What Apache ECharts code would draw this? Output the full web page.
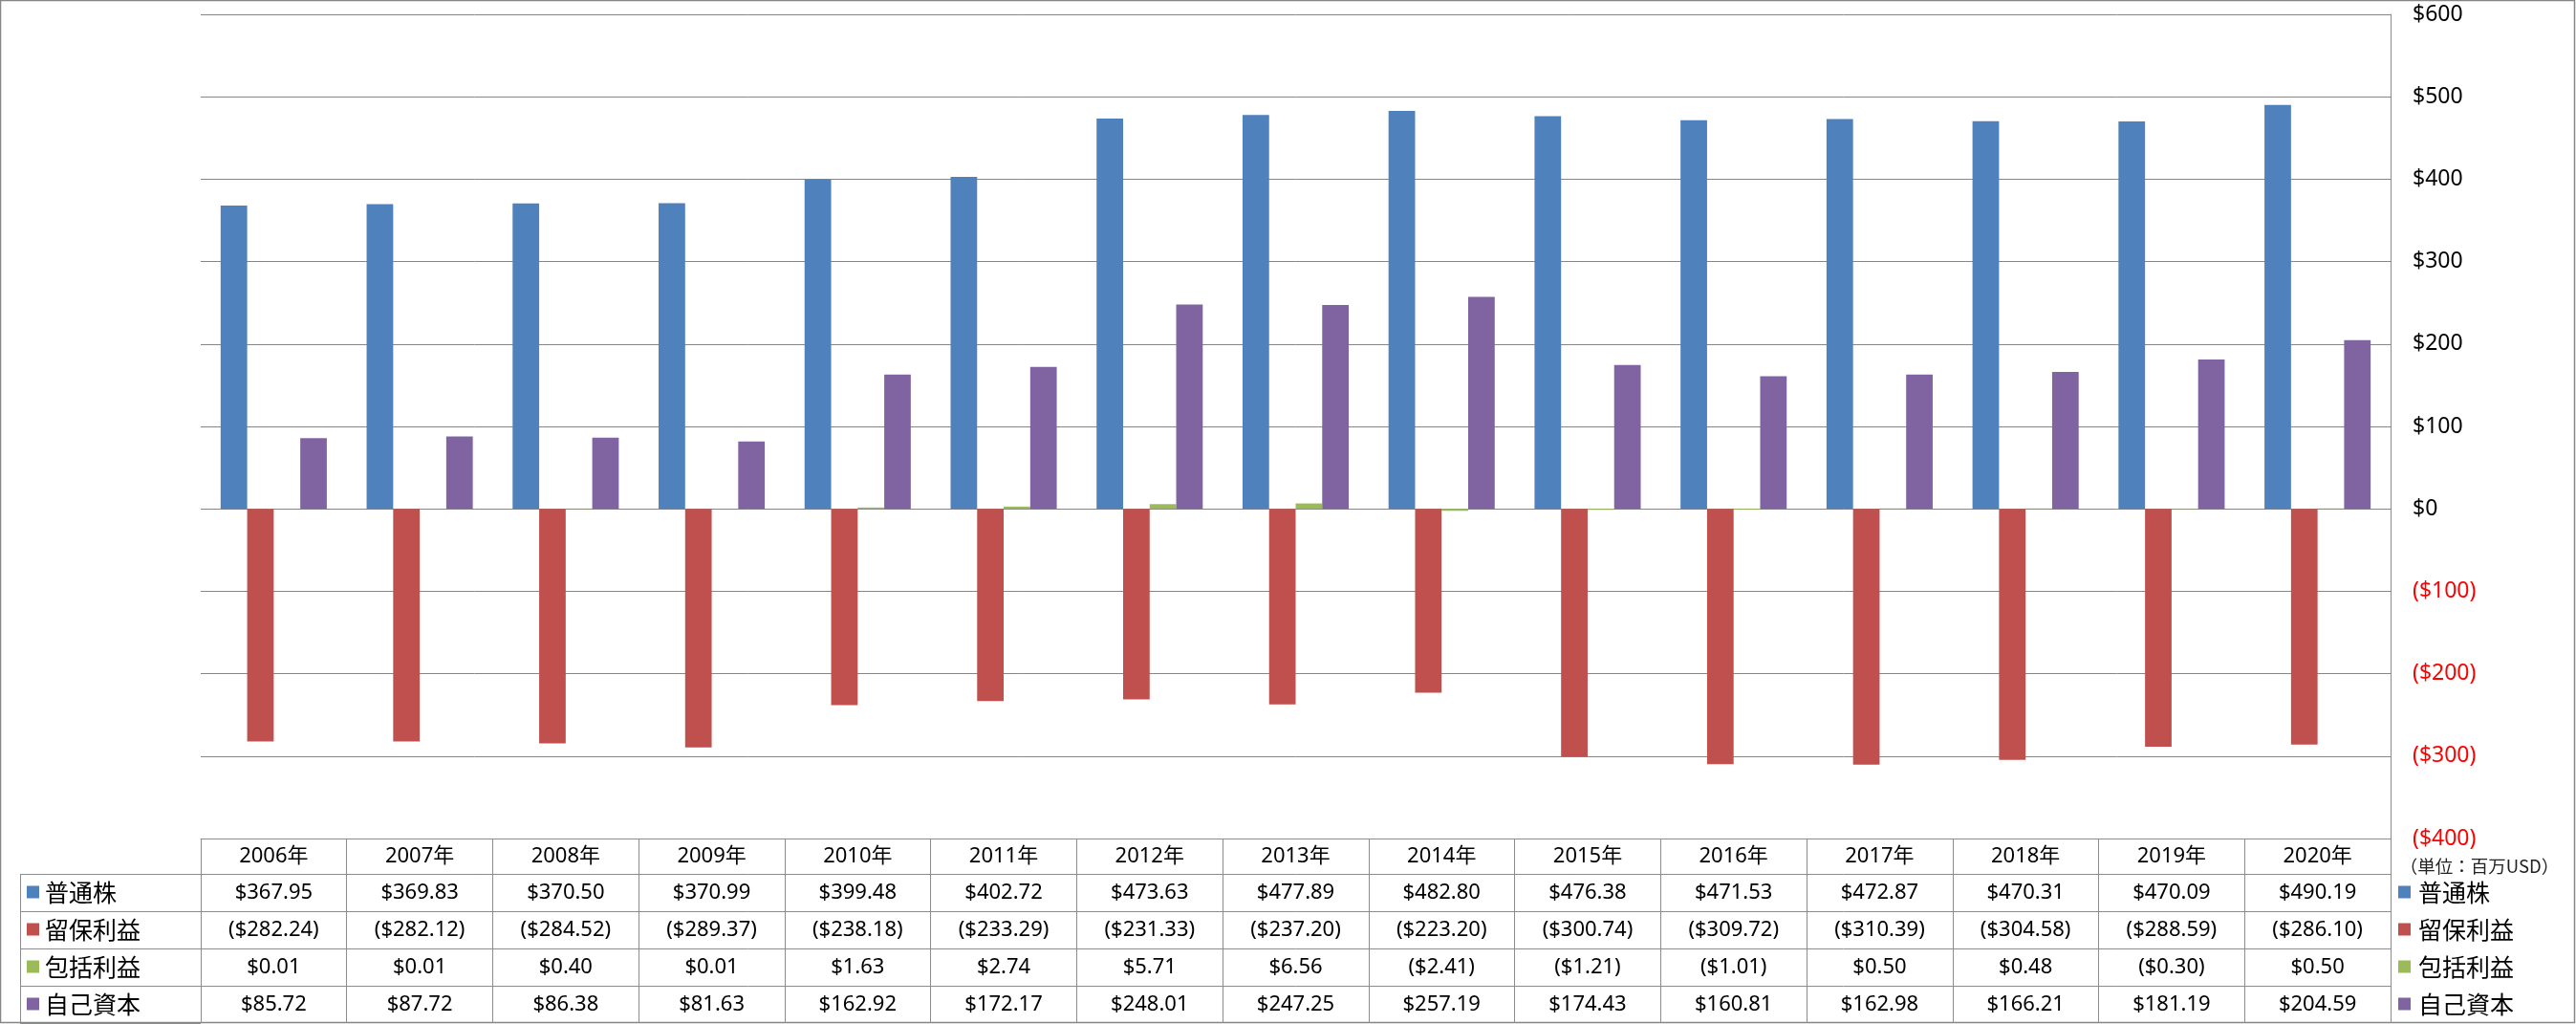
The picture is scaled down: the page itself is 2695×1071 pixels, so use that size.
<!DOCTYPE html>
<html>
<head>
<meta charset="utf-8">
<script src="https://cdn.jsdelivr.net/npm/echarts@6/dist/echarts.min.js"></script>
<style>
html,body{margin:0;padding:0;background:#fff;}
#main{width:2695px;height:1071px;}
</style>
</head>
<body>
<div id="main"></div>
<script>
// ---- data ----
const years = ['2006年','2007年','2008年','2009年','2010年','2011年','2012年','2013年','2014年','2015年','2016年','2017年','2018年','2019年','2020年'];
const seriesNames = ['普通株','留保利益','包括利益','自己資本'];
const commonStock = [367.95,369.83,370.50,370.99,399.48,402.72,473.63,477.89,482.80,476.38,471.53,472.87,470.31,470.09,490.19];
const retainedEarnings = [-282.24,-282.12,-284.52,-289.37,-238.18,-233.29,-231.33,-237.20,-223.20,-300.74,-309.72,-310.39,-304.58,-288.59,-286.10];
const comprehensiveIncome = [0.01,0.01,0.40,0.01,1.63,2.74,5.71,6.56,-2.41,-1.21,-1.01,0.50,0.48,-0.30,0.50];
const equity = [85.72,87.72,86.38,81.63,162.92,172.17,248.01,247.25,257.19,174.43,160.81,162.98,166.21,181.19,204.59];
const yMin = -400, yMax = 600, yStep = 100;
const unitText = '（単位：百万USD）';

// ---- styles / layout ----
const colors = ['#4F81BD','#C0504D','#9BBB59','#8064A2'];
const values = [commonStock, retainedEarnings, comprehensiveIncome, equity];
const W = 2695, H = 1071;
const gridLeft = 210, gridRight = 2501, gridTop = 15, gridBottom = 877;
const headH = 37, rowH = 39;
const lineColor = '#8c8c8c';
const latin = '"Noto Sans", "Noto Sans CJK JP", sans-serif';
const cjk = '"Noto Sans CJK JP", "Noto Sans", sans-serif';

function fmt(v){ return v < 0 ? '($' + Math.abs(v).toFixed(2) + ')' : '$' + v.toFixed(2); }

const xAxes = [{
  type:'category', data: years, position:'bottom', offset:0, gridIndex:0,
  boundaryGap:true,
  axisLine:{show:true, onZero:false, lineStyle:{color:lineColor, width:1}},
  axisTick:{show:true, interval:0, length:headH, lineStyle:{color:lineColor, width:1}},
  axisLabel:{interval:0, margin:headH/2, verticalAlign:'middle', fontSize:22, color:'#000', fontFamily:latin},
  splitLine:{show:false}
}];
values.forEach(function(arr, k){
  xAxes.push({
    type:'category', data: years, position:'bottom', offset: headH + rowH*k, gridIndex:0,
    boundaryGap:true,
    axisLine:{show:true, onZero:false, lineStyle:{color:lineColor, width:1}},
    axisTick:{show:true, interval:0, length:rowH, lineStyle:{color:lineColor, width:1}},
    axisLabel:{interval:0, margin:rowH/2, verticalAlign:'middle', fontSize:22, color:'#000', fontFamily:latin,
      formatter:function(v, i){ return fmt(arr[i]); }},
    splitLine:{show:false}
  });
});

const series = seriesNames.map(function(name, k){
  return {
    name: name, type:'bar', xAxisIndex:0, yAxisIndex:0,
    data: values[k],
    barGap:'0%', barCategoryGap:'27.27%',
    itemStyle:{color: colors[k]},
    emphasis:{disabled:true}
  };
});

// graphic: left label column, right legend, unit text, frame
const graphics = [];
const tableTop = gridBottom + headH;
const leftX = 21;
graphics.push({type:'line', shape:{x1:leftX+0.5, y1:tableTop, x2:leftX+0.5, y2:tableTop+rowH*4}, style:{stroke:lineColor, lineWidth:1}, silent:true});
for (let k=0;k<=4;k++){
  const y = Math.round(tableTop + rowH*k) + 0.5;
  graphics.push({type:'line', shape:{x1:leftX, y1:y, x2:gridLeft, y2:y}, style:{stroke:lineColor, lineWidth:1}, silent:true});
}
seriesNames.forEach(function(name, k){
  const cy = tableTop + rowH*k + rowH/2;
  graphics.push({type:'rect', shape:{x:28, y:cy-7, width:13, height:13}, style:{fill:colors[k]}, silent:true});
  graphics.push({type:'text', x:47, y:cy, style:{text:name, fontSize:25, fontFamily:cjk, fill:'#000', verticalAlign:'middle', align:'left'}, silent:true});
  graphics.push({type:'rect', shape:{x:2509, y:cy-7, width:13, height:13}, style:{fill:colors[k]}, silent:true});
  graphics.push({type:'text', x:2530, y:cy, style:{text:name, fontSize:25, fontFamily:cjk, fill:'#000', verticalAlign:'middle', align:'left'}, silent:true});
});
graphics.push({type:'text', x:2594, y:906, style:{text:unitText, fontSize:18.5, fontFamily:cjk, fill:'#222', verticalAlign:'middle', align:'center'}, silent:true});
graphics.push({type:'rect', shape:{x:0.5, y:0.5, width:W-2, height:H-2}, style:{fill:'none', stroke:'#868686', lineWidth:1.5}, silent:true});

const option = {
  animation:false,
  backgroundColor:'#fff',
  grid:{left:gridLeft, right:W-gridRight, top:gridTop, bottom:H-gridBottom, containLabel:false, outerBoundsMode:'none'},
  xAxis: xAxes,
  yAxis: {
    type:'value', position:'right', min:yMin, max:yMax, interval:yStep,
    axisLine:{show:true, lineStyle:{color:lineColor, width:1}},
    axisTick:{show:false},
    splitLine:{show:true, lineStyle:{color:'#868686', width:1}},
    axisLabel:{
      margin:23, fontSize:23, fontFamily:latin,
      formatter:function(v){ return v < 0 ? '{n|($' + Math.abs(v) + ')}' : '{p|$' + v + '}'; },
      rich:{ n:{color:'#FF0000', fontSize:23, fontFamily:latin}, p:{color:'#000', fontSize:23, fontFamily:latin} }
    }
  },
  series: series,
  graphic: graphics
};

const chart = echarts.init(document.getElementById('main'), null, {renderer:'canvas', width:W, height:H});
chart.setOption(option);
</script>
</body>
</html>
